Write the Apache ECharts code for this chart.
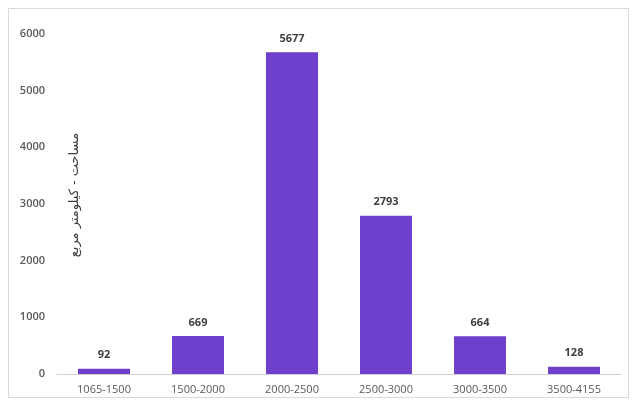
<!DOCTYPE html>
<html>
<head>
<meta charset="utf-8">
<script src="https://cdn.jsdelivr.net/npm/echarts@6/dist/echarts.min.js"></script>
<style>
  html, body { margin: 0; padding: 0; background: #fff; }
  #chart { width: 633px; height: 401px; }
</style>
</head>
<body>
<div id="chart"></div>
<script>
// Elevation classes (m) and the area covered by each (km²)
const categories = ['1065-1500', '1500-2000', '2000-2500', '2500-3000', '3000-3500', '3500-4155'];
const areaValues = [92, 669, 5677, 2793, 664, 128];
const yTicks = { min: 0, max: 6000, interval: 1000 };
const yAxisTitle = 'مساحت - کیلومتر مربع';

const chart = echarts.init(document.getElementById('chart'), null, { renderer: 'canvas' });

chart.setOption({
  backgroundColor: '#ffffff',
  animation: false,
  graphic: [{
    type: 'rect',
    shape: { x: 8.5, y: 8.5, width: 620, height: 389 },
    style: { fill: 'none', stroke: '#d9d9d9', lineWidth: 1 },
    silent: true
  }, {
    // vertical axis title, reading top to bottom inside the plot area
    type: 'text',
    x: 75,
    y: 195,
    rotation: Math.PI / 2,
    style: {
      text: yAxisTitle,
      fill: '#404040',
      font: '13px "DejaVu Sans"',
      align: 'center',
      verticalAlign: 'middle'
    },
    silent: true
  }],
  grid: { left: 57, right: 12, top: 34, bottom: 27, outerBoundsMode: 'none', containLabel: false },
  xAxis: {
    type: 'category',
    data: categories,
    axisTick: { show: false },
    axisLine: { lineStyle: { color: '#d0d0d0', width: 1 } },
    axisLabel: {
      color: '#595959',
      fontFamily: 'Open Sans',
      fontSize: 11,
      margin: 10
    }
  },
  yAxis: {
    type: 'value',
    min: yTicks.min,
    max: yTicks.max,
    interval: yTicks.interval,
    splitLine: { show: false },
    axisLine: { show: false },
    axisTick: { show: false },
    axisLabel: {
      color: '#595959',
      fontFamily: 'Open Sans',
      fontSize: 11,
      fontWeight: 600,
      margin: 12,
      formatter: (v) => String(v)
    }
  },
  series: [{
    type: 'bar',
    data: areaValues,
    barWidth: 52,
    itemStyle: { color: '#6f40cb' },
    label: {
      show: true,
      position: 'top',
      distance: 8,
      color: '#404040',
      fontFamily: 'Open Sans',
      fontSize: 11,
      fontWeight: 'bold'
    }
  }]
});
</script>
</body>
</html>
